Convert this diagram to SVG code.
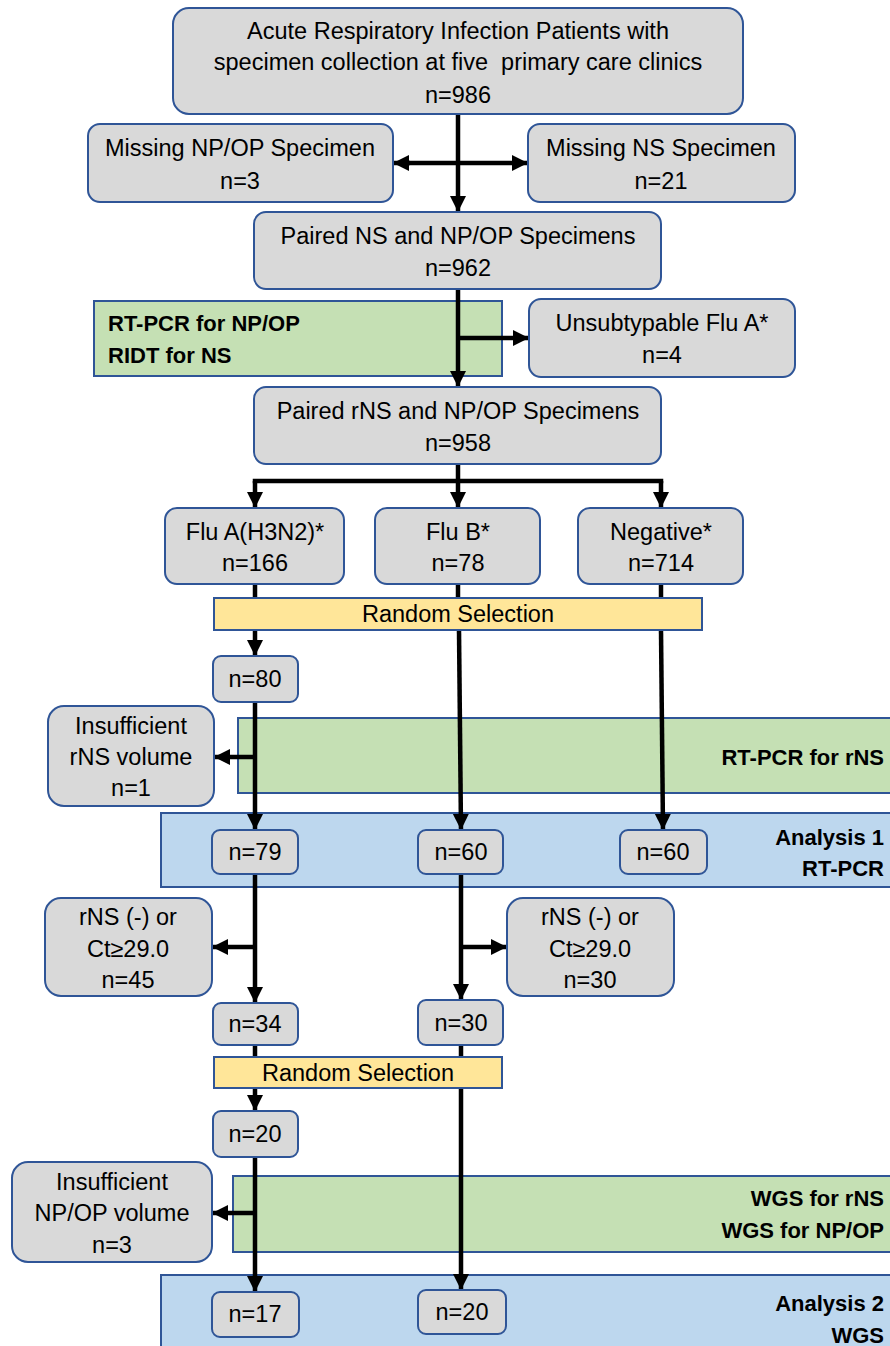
<svg xmlns="http://www.w3.org/2000/svg" width="890" height="1346" viewBox="0 0 890 1346">
<style>
text{font-family:"Liberation Sans",Arial,sans-serif;font-size:23.5px;fill:#000;white-space:pre}
.c{text-anchor:middle}
.b{font-weight:bold;font-size:22px}
.r{text-anchor:end}
.g{fill:#d9d9d9;stroke:#2f5597;stroke-width:2}
.gr{fill:#c5e0b4;stroke:#2f5597;stroke-width:2}
.bl{fill:#bdd7ee;stroke:#2f5597;stroke-width:2}
.y{fill:#ffe699;stroke:#2f5597;stroke-width:2}
.l{stroke:#000;stroke-width:4.5;fill:none}
.a{marker-end:url(#ah)}
</style>
<defs>
<marker id="ah" markerUnits="userSpaceOnUse" markerWidth="18" markerHeight="18" viewBox="0 0 18 18" refX="16" refY="9" orient="auto-start-reverse">
<path d="M0,1 L16,9 L0,17 z" fill="#000"/>
</marker>
</defs>
<rect width="890" height="1346" fill="#fff"/>
<g id="bands">
<g id="band-rtpcr-npop"><rect class="gr" x="94" y="301" width="408" height="75"/><text class="b" x="108" y="331">RT-PCR for NP/OP</text><text class="b" x="108" y="363">RIDT for NS</text></g>
<g id="band-rtpcr-rns"><rect class="gr" x="238" y="718" width="660" height="75"/><text class="b r" x="884" y="765">RT-PCR for rNS</text></g>
<g id="band-analysis1"><rect class="bl" x="161" y="813" width="737" height="74"/><text class="b r" x="884" y="845">Analysis 1</text><text class="b r" x="884" y="876">RT-PCR</text></g>
<g id="band-wgs"><rect class="gr" x="233" y="1176" width="665" height="76"/><text class="b r" x="884" y="1206">WGS for rNS</text><text class="b r" x="884" y="1238">WGS for NP/OP</text></g>
<g id="band-analysis2"><rect class="bl" x="161" y="1275" width="737" height="80"/><text class="b r" x="884" y="1311">Analysis 2</text><text class="b r" x="884" y="1343">WGS</text></g>
</g>
<g id="connectors">
<line class="l a" x1="458" y1="114" x2="458" y2="212"/>
<line class="l a" x1="410" y1="163" x2="393" y2="163"/>
<line class="l a" x1="400" y1="163" x2="528" y2="163"/>
<line class="l a" x1="458" y1="289" x2="458" y2="387"/>
<line class="l a" x1="458" y1="338" x2="529" y2="338"/>
<line class="l" x1="458" y1="464" x2="458" y2="481"/>
<line class="l" x1="255" y1="481" x2="661" y2="481" stroke-linecap="square"/>
<line class="l a" x1="255" y1="481" x2="255" y2="508"/>
<line class="l a" x1="458" y1="481" x2="458" y2="508"/>
<line class="l a" x1="661" y1="481" x2="661" y2="508"/>
<line class="l" x1="255" y1="584" x2="255" y2="600"/>
<line class="l" x1="458" y1="584" x2="458" y2="600"/>
<line class="l" x1="661" y1="584" x2="661" y2="600"/>
<line class="l a" x1="255" y1="630" x2="255" y2="656"/>
<line class="l a" x1="459" y1="630" x2="461" y2="830"/>
<line class="l a" x1="661" y1="630" x2="663" y2="830"/>
<line class="l a" x1="255" y1="702" x2="255" y2="830"/>
<line class="l a" x1="257" y1="757" x2="214" y2="757"/>
<line class="l a" x1="255" y1="874" x2="255" y2="1003"/>
<line class="l a" x1="257" y1="947" x2="212" y2="947"/>
<line class="l a" x1="461" y1="874" x2="461" y2="1000"/>
<line class="l a" x1="459" y1="947" x2="507" y2="947"/>
<line class="l" x1="255" y1="1045" x2="255" y2="1060"/>
<line class="l a" x1="255" y1="1086" x2="255" y2="1111"/>
<line class="l a" x1="461" y1="1045" x2="461" y2="1290"/>
<line class="l a" x1="255" y1="1157" x2="255" y2="1292"/>
<line class="l a" x1="257" y1="1213" x2="212" y2="1213"/>
</g>
<g id="n-ari"><rect class="g" x="173" y="8" width="570" height="106" rx="16"/><text class="c" x="458" y="39">Acute Respiratory Infection Patients with</text><text class="c" x="458" y="70">specimen collection at five  primary care clinics</text><text class="c" x="458" y="103">n=986</text></g>
<g id="n-miss-npop"><rect class="g" x="88" y="124" width="305" height="78" rx="12"/><text class="c" x="240" y="156">Missing NP/OP Specimen</text><text class="c" x="240" y="189">n=3</text></g>
<g id="n-miss-ns"><rect class="g" x="528" y="124" width="267" height="78" rx="12"/><text class="c" x="661" y="156">Missing NS Specimen</text><text class="c" x="661" y="189">n=21</text></g>
<g id="n-paired-ns"><rect class="g" x="254" y="212" width="407" height="77" rx="12"/><text class="c" x="458" y="244">Paired NS and NP/OP Specimens</text><text class="c" x="458" y="276">n=962</text></g>
<g id="n-unsub"><rect class="g" x="529" y="299" width="266" height="78" rx="12"/><text class="c" x="662" y="331">Unsubtypable Flu A*</text><text class="c" x="662" y="363">n=4</text></g>
<g id="n-paired-rns"><rect class="g" x="254" y="387" width="407" height="77" rx="12"/><text class="c" x="458" y="419">Paired rNS and NP/OP Specimens</text><text class="c" x="458" y="451">n=958</text></g>
<g id="n-flua"><rect class="g" x="165" y="508" width="179" height="76" rx="12"/><text class="c" x="255" y="540">Flu A(H3N2)*</text><text class="c" x="255" y="571">n=166</text></g>
<g id="n-flub"><rect class="g" x="375" y="508" width="165" height="76" rx="12"/><text class="c" x="458" y="540">Flu B*</text><text class="c" x="458" y="571">n=78</text></g>
<g id="n-neg"><rect class="g" x="578" y="508" width="165" height="76" rx="12"/><text class="c" x="661" y="540">Negative*</text><text class="c" x="661" y="571">n=714</text></g>
<g id="n-random1"><rect class="y" x="214" y="598" width="488" height="32"/><text class="c" x="458" y="622">Random Selection</text></g>
<g id="n-80"><rect class="g" x="213" y="656" width="85" height="46" rx="8"/><text class="c" x="255" y="687">n=80</text></g>
<g id="n-insuf-rns"><rect class="g" x="48" y="706" width="166" height="100" rx="16"/><text class="c" x="131" y="734">Insufficient</text><text class="c" x="131" y="765">rNS volume</text><text class="c" x="131" y="796">n=1</text></g>
<g id="n-79"><rect class="g" x="212" y="830" width="86" height="44" rx="8"/><text class="c" x="255" y="860">n=79</text></g>
<g id="n-60b"><rect class="g" x="418" y="830" width="85" height="44" rx="8"/><text class="c" x="461" y="860">n=60</text></g>
<g id="n-60n"><rect class="g" x="620" y="830" width="87" height="44" rx="8"/><text class="c" x="663" y="860">n=60</text></g>
<g id="n-neg-a"><rect class="g" x="45" y="898" width="167" height="98" rx="16"/><text class="c" x="128" y="925">rNS (-) or</text><text class="c" x="128" y="957">Ct≥29.0</text><text class="c" x="128" y="988">n=45</text></g>
<g id="n-neg-b"><rect class="g" x="507" y="898" width="167" height="98" rx="16"/><text class="c" x="590" y="925">rNS (-) or</text><text class="c" x="590" y="957">Ct≥29.0</text><text class="c" x="590" y="988">n=30</text></g>
<g id="n-34"><rect class="g" x="213" y="1003" width="85" height="42" rx="8"/><text class="c" x="255" y="1032">n=34</text></g>
<g id="n-30"><rect class="g" x="418" y="1000" width="85" height="45" rx="8"/><text class="c" x="461" y="1031">n=30</text></g>
<g id="n-random2"><rect class="y" x="214" y="1057" width="288" height="31"/><text class="c" x="358" y="1081">Random Selection</text></g>
<g id="n-20a"><rect class="g" x="213" y="1111" width="85" height="46" rx="8"/><text class="c" x="255" y="1142">n=20</text></g>
<g id="n-insuf-npop"><rect class="g" x="12" y="1162" width="200" height="100" rx="16"/><text class="c" x="112" y="1190">Insufficient</text><text class="c" x="112" y="1221">NP/OP volume</text><text class="c" x="112" y="1253">n=3</text></g>
<g id="n-17"><rect class="g" x="212" y="1292" width="87" height="45" rx="8"/><text class="c" x="255" y="1322">n=17</text></g>
<g id="n-20b"><rect class="g" x="418" y="1290" width="88" height="44" rx="8"/><text class="c" x="462" y="1320">n=20</text></g>
</svg>
